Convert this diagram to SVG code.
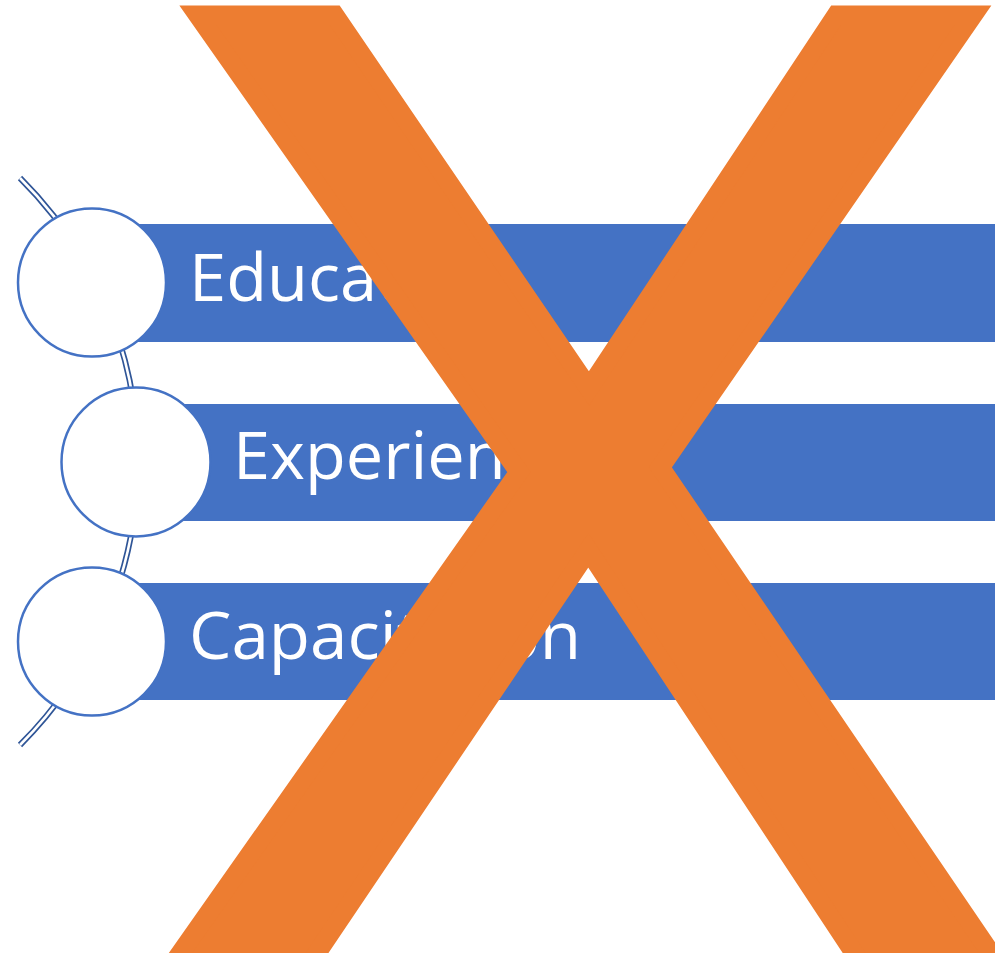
<svg xmlns="http://www.w3.org/2000/svg" width="995" height="953" viewBox="0 0 995 953">
  <style>
    .bar { fill: #4472C4; }
    .bubble { fill: #FFFFFF; stroke: #4472C4; stroke-width: 2.5; }
    .label { font-family: "Open Sans", "Noto Sans", "Liberation Sans", sans-serif; font-size: 66px; fill: #FFFFFF; }
    .arc-outer { fill: none; stroke: #2F5597; stroke-width: 6; }
    .arc-inner { fill: none; stroke: #FFFFFF; stroke-width: 2.6; }
    .cross { font-family: "Liberation Sans", Arial, sans-serif; font-size: 1339px; fill: #ED7D31; stroke: #ED7D31; stroke-width: 19; stroke-linejoin: miter; }
  </style>
  <rect width="995" height="953" fill="#FFFFFF"/>
  <g id="connectors">
    <path class="arc-outer" d="M 20 178 A 400 400 0 0 1 20 745"/>
    <path class="arc-inner" d="M 20 178 A 400 400 0 0 1 20 745"/>
  </g>
  <g id="node-education">
    <rect class="bar" x="92" y="224" width="903" height="118"/>
    <circle class="bubble" cx="92" cy="282.5" r="74"/>
    <text class="label" x="189" y="301" textLength="310" lengthAdjust="spacingAndGlyphs">Education</text>
  </g>
  <g id="node-experience">
    <rect class="bar" x="136" y="404" width="859" height="117"/>
    <circle class="bubble" cx="136" cy="462" r="74.5"/>
    <text class="label" x="233" y="479" textLength="342" lengthAdjust="spacingAndGlyphs">Experience</text>
  </g>
  <g id="node-capacitation">
    <rect class="bar" x="92" y="583" width="903" height="117"/>
    <circle class="bubble" cx="92" cy="641.5" r="74"/>
    <text class="label" x="189" y="659" textLength="392" lengthAdjust="spacingAndGlyphs">Capacitation</text>
  </g>
  <g id="cross-out">
    <text class="cross" transform="translate(141.5 966) scale(0.992 1.032)" x="0" y="0">X</text>
  </g>
</svg>
